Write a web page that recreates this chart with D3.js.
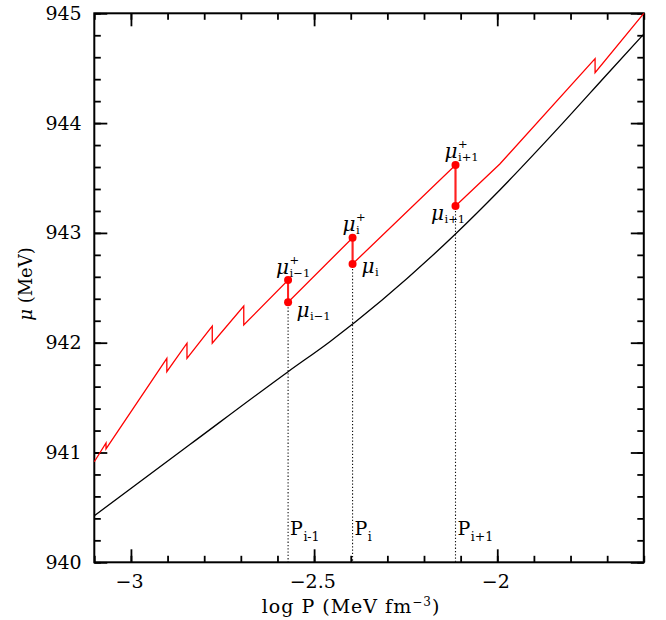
<!DOCTYPE html>
<html>
<head>
<meta charset="utf-8">
<script src="https://cdn.jsdelivr.net/npm/d3@7"></script>
<style>
  body { margin: 0; background: #fff; }
  text { font-family: "DejaVu Serif", serif; fill: #000; }
</style>
</head>
<body>
<div id="chart"></div>
<script>
// red sawtooth (mu of the mixed phase)
var redLogP = [-3.100, -3.068, -3.068, -2.902, -2.902, -2.847, -2.847, -2.778, -2.778,
               -2.692, -2.692, -2.571, -2.571, -2.395, -2.395, -2.114, -2.114, -1.993,
               -1.733, -1.733, -1.600];
var redMu   = [940.916, 941.087, 941.032, 941.858, 941.736, 941.995, 941.858, 942.152, 941.995,
               942.334, 942.161, 942.571, 942.368, 942.956, 942.717, 943.618, 943.245, 943.627,
               944.587, 944.459, 945.000];

// black smooth curve
var blackLogP = [-3.100, -2.840, -2.571, -2.457, -2.117, -1.993, -1.820, -1.702, -1.600];
var blackMu   = [940.424, 941.070, 941.736, 942.009, 942.981, 943.391, 944.004, 944.438, 944.811];

// the three marked transitions
var jumpLogP = [-2.571, -2.395, -2.114];
var muPlus   = [942.571, 942.956, 943.618];
var muMinus  = [942.368, 942.717, 943.245];
var subMu    = ["i\u22121", "i", "i+1"];
var subP     = ["i-1", "i", "i+1"];

// axes
var xTicks = [-3, -2.5, -2];
var yTicks = [940, 941, 942, 943, 944, 945];

var W = 666, H = 620;
var margin = {top: 13.3, right: 22.2, bottom: 57.7, left: 94.3};

var x = d3.scaleLinear().domain([-3.1, -1.6]).range([margin.left, W - margin.right]);
var y = d3.scaleLinear().domain([940, 945]).range([H - margin.bottom, margin.top]);

var svg = d3.select("#chart").append("svg")
    .attr("width", W)
    .attr("height", H);

var xMinor = d3.range(-31, -15).map(function(d) { return d / 10; });
var yMinor = d3.range(4700, 4726).map(function(d) { return d / 5; });

var X0 = x.range()[0], X1 = x.range()[1], Y0 = y.range()[0], Y1 = y.range()[1];

function axisStyle(g) {
  g.select(".domain").remove();
  g.selectAll("line").attr("stroke", "#000").attr("stroke-width", 1.8);
}

//bottom axis, labelled
svg.append("g").attr("transform", "translate(0," + Y0 + ")")
   .call(d3.axisBottom(x).tickValues(xMinor).tickSize(-6.5).tickFormat(""))
   .call(axisStyle);
svg.append("g").attr("transform", "translate(0," + Y0 + ")")
   .call(d3.axisBottom(x).tickValues(xTicks).tickSize(-13).tickPadding(12).tickFormat(d3.format("")))
   .call(axisStyle)
   .selectAll("text").style("font-size", "19px").style("font-family", "DejaVu Serif")
   .attr("dx", "-0.1em");

//top axis
svg.append("g").attr("transform", "translate(0," + Y1 + ")")
   .call(d3.axisTop(x).tickValues(xMinor).tickSize(-6.5).tickFormat(""))
   .call(axisStyle);
svg.append("g").attr("transform", "translate(0," + Y1 + ")")
   .call(d3.axisTop(x).tickValues(xTicks).tickSize(-13).tickFormat(""))
   .call(axisStyle);

//left axis, labelled
svg.append("g").attr("transform", "translate(" + X0 + ",0)")
   .call(d3.axisLeft(y).tickValues(yMinor).tickSize(-6.5).tickFormat(""))
   .call(axisStyle);
svg.append("g").attr("transform", "translate(" + X0 + ",0)")
   .call(d3.axisLeft(y).tickValues(yTicks).tickSize(-13).tickPadding(12.6).tickFormat(d3.format("d")))
   .call(axisStyle)
   .selectAll("text").style("font-size", "19px").style("font-family", "DejaVu Serif");

//right axis
svg.append("g").attr("transform", "translate(" + X1 + ",0)")
   .call(d3.axisRight(y).tickValues(yMinor).tickSize(-6.5).tickFormat(""))
   .call(axisStyle);
svg.append("g").attr("transform", "translate(" + X1 + ",0)")
   .call(d3.axisRight(y).tickValues(yTicks).tickSize(-13).tickFormat(""))
   .call(axisStyle);

//frame
svg.append("rect")
   .attr("x", X0).attr("y", Y1)
   .attr("width", X1 - X0).attr("height", Y0 - Y1)
   .attr("fill", "none").attr("stroke", "#000").attr("stroke-width", 2);

//dotted drop lines
svg.selectAll(".drop")
   .data(jumpLogP)
  .enter().append("line")
   .attr("x1", function(d) { return x(d); })
   .attr("x2", function(d) { return x(d); })
   .attr("y1", function(d, i) { return y(muMinus[i]) + 5; })
   .attr("y2", Y0)
   .attr("stroke", "#111").attr("stroke-width", 1.1)
   .attr("stroke-dasharray", "1.3,2");

//black curve
var blackLine = d3.line()
   .x(function(d, i) { return x(blackLogP[i]); })
   .y(function(d, i) { return y(blackMu[i]); })
   .curve(d3.curveMonotoneX);
svg.append("path")
   .datum(blackMu)
   .attr("d", blackLine)
   .attr("fill", "none").attr("stroke", "#000").attr("stroke-width", 1.3);

//red sawtooth
var redLine = d3.line()
   .x(function(d, i) { return x(redLogP[i]); })
   .y(function(d, i) { return y(redMu[i]); });
svg.append("path")
   .datum(redMu)
   .attr("d", redLine)
   .attr("fill", "none").attr("stroke", "#ff0000").attr("stroke-width", 1.3);

//marked jumps
svg.selectAll(".jump")
   .data(jumpLogP)
  .enter().append("line")
   .attr("x1", function(d) { return x(d); })
   .attr("x2", function(d) { return x(d); })
   .attr("y1", function(d, i) { return y(muPlus[i]); })
   .attr("y2", function(d, i) { return y(muMinus[i]); })
   .attr("stroke", "#ff2020").attr("stroke-width", 2);

svg.selectAll(".dotP")
   .data(jumpLogP.concat(jumpLogP))
  .enter().append("circle")
   .attr("cx", function(d) { return x(d); })
   .attr("cy", function(d, i) { return i < 3 ? y(muPlus[i]) : y(muMinus[i - 3]); })
   .attr("r", 4)
   .attr("fill", "#ff0000");

//mu labels: [dx, dy] of the mu glyph's baseline from its point
var plusOff  = [[-12, -6], [-10, -6.5], [-11, -7]];
var minusOff = [[8.4, 15], [9, 9.5], [-24.5, 14]];

function muLabel(px, py, sup, sub) {
  var g = svg.append("g");
  var m = g.append("text")
     .attr("x", px).attr("y", py)
     .style("font-size", "20px").style("font-style", "italic")
     .text("\u03bc");
  var w = m.node().getComputedTextLength();
  if (sup) {
    g.append("text")
       .attr("x", px + w + 0.5).attr("y", py - 10.5)
       .style("font-size", "11.5px")
       .text(sup);
  }
  g.append("text")
     .attr("x", px + w + 0.5).attr("y", py + 3)
     .style("font-size", "11.5px")
     .text(sub);
}

jumpLogP.forEach(function(d, i) {
  muLabel(x(d) + plusOff[i][0], y(muPlus[i]) + plusOff[i][1], "+", subMu[i]);
  muLabel(x(d) + minusOff[i][0], y(muMinus[i]) + minusOff[i][1], null, subMu[i]);
});

//P labels along the dotted lines
jumpLogP.forEach(function(d, i) {
  var t = svg.append("text")
     .attr("x", x(d) + 2).attr("y", 535)
     .style("font-size", "19px")
     .text("P");
  var w = t.node().getComputedTextLength();
  svg.append("text")
     .attr("x", x(d) + 2 + w + 0.5).attr("y", 540.5)
     .style("font-size", "12.5px")
     .text(subP[i]);
});

//axis titles
var xt = svg.append("text")
   .attr("x", 351).attr("y", 613)
   .attr("text-anchor", "middle")
   .style("font-size", "19px")
   .style("letter-spacing", "1px");
xt.append("tspan").text("log P (MeV fm");
xt.append("tspan").attr("dy", -7).style("font-size", "12px").text("\u22123");
xt.append("tspan").attr("dy", 7).text(")");

var yt = svg.append("text")
   .attr("transform", "translate(32," + 284 + ") rotate(-90)")
   .attr("text-anchor", "middle")
   .style("font-size", "18px");
yt.append("tspan").style("font-style", "italic").text("\u03bc");
yt.append("tspan").text(" (MeV)");
</script>
</body>
</html>
